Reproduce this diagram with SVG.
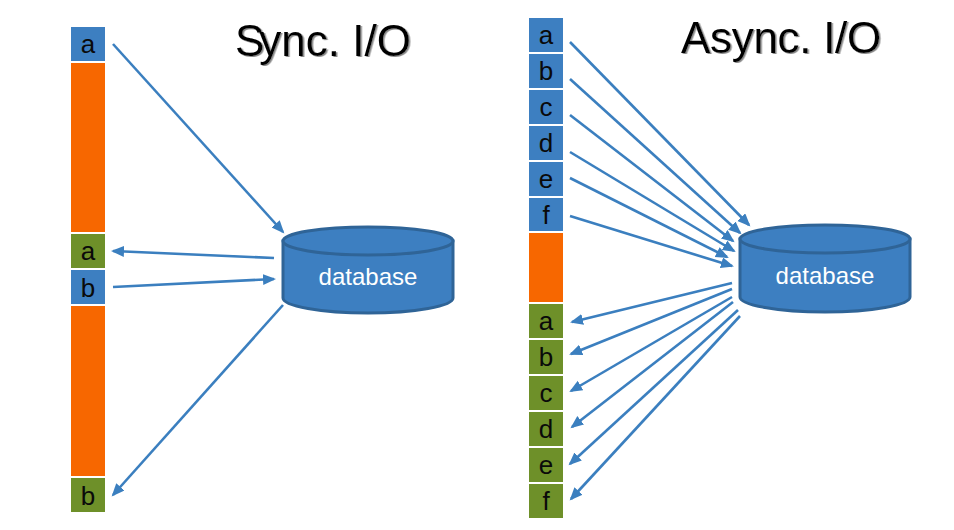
<svg xmlns="http://www.w3.org/2000/svg" width="954" height="530" viewBox="0 0 954 530">
  <style>
    text { font-family: "Liberation Sans", Arial, sans-serif; }
    .box { stroke-width: 0; }
    .io { fill: #3d7fc1; }
    .done { fill: #6e9029; }
    .wait { fill: #f76700; }
    .label { font-size: 26px; fill: #0a0a0a; text-anchor: middle; }
    .title { font-size: 44px; fill: #000; filter: url(#soft); }
    .dbbody { fill: #3d7fc1; stroke: #2f6497; stroke-width: 3; }
    .dbtext { font-size: 24px; fill: #fff; text-anchor: middle; }
    .link { stroke: #3b7fbf; stroke-width: 2.6; fill: none; marker-end: url(#head); }
  </style>
  <defs>
    <marker id="head" markerUnits="userSpaceOnUse" markerWidth="14" markerHeight="12" refX="11" refY="5.5" orient="auto">
      <path d="M0 0L13 5.5L0 11Z" fill="#3b7fbf"/>
    </marker>
    <filter id="soft" x="-5%" y="-10%" width="110%" height="120%">
      <feDropShadow dx="1.5" dy="1" stdDeviation="0.7" flood-color="#888"/>
    </filter>
  </defs>
  <rect width="954" height="530" fill="#fff"/>

  <text class="title" x="235" y="56" dx="0 -5 0 0 0 0 0 0 0" letter-spacing="0">Sync. I/O</text>
  <text class="title" x="681" y="53" letter-spacing="-0.3">Async. I/O</text>

  <g id="sync-column">
    <g id="sync-a-out"><rect class="box io" x="71" y="27" width="34" height="34"/><text class="label" x="88" y="53">a</text></g>
    <g id="sync-wait-1"><rect class="box wait" x="71" y="63" width="34" height="169"/></g>
    <g id="sync-a-in"><rect class="box done" x="71" y="234" width="34" height="34"/><text class="label" x="88" y="260">a</text></g>
    <g id="sync-b-out"><rect class="box io" x="71" y="270" width="34" height="34"/><text class="label" x="88" y="297">b</text></g>
    <g id="sync-wait-2"><rect class="box wait" x="71" y="306" width="34" height="170"/></g>
    <g id="sync-b-in"><rect class="box done" x="71" y="478" width="34" height="34"/><text class="label" x="88" y="505">b</text></g>
  </g>

  <g id="async-column">
    <g id="async-a-out"><rect class="box io" x="529" y="18" width="34" height="34"/><text class="label" x="546" y="44">a</text></g>
    <g id="async-b-out"><rect class="box io" x="529" y="54" width="34" height="34"/><text class="label" x="546" y="80">b</text></g>
    <g id="async-c-out"><rect class="box io" x="529" y="90" width="34" height="34"/><text class="label" x="546" y="116">c</text></g>
    <g id="async-d-out"><rect class="box io" x="529" y="126" width="34" height="34"/><text class="label" x="546" y="152">d</text></g>
    <g id="async-e-out"><rect class="box io" x="529" y="162" width="34" height="34"/><text class="label" x="546" y="188">e</text></g>
    <g id="async-f-out"><rect class="box io" x="529" y="198" width="34" height="33"/><text class="label" x="546" y="224">f</text></g>
    <g id="async-wait"><rect class="box wait" x="529" y="233" width="34" height="69"/></g>
    <g id="async-a-in"><rect class="box done" x="529" y="304" width="34" height="34"/><text class="label" x="546" y="330">a</text></g>
    <g id="async-b-in"><rect class="box done" x="529" y="340" width="34" height="34"/><text class="label" x="546" y="366">b</text></g>
    <g id="async-c-in"><rect class="box done" x="529" y="376" width="34" height="34"/><text class="label" x="546" y="402">c</text></g>
    <g id="async-d-in"><rect class="box done" x="529" y="412" width="34" height="34"/><text class="label" x="546" y="438">d</text></g>
    <g id="async-e-in"><rect class="box done" x="529" y="448" width="34" height="34"/><text class="label" x="546" y="474">e</text></g>
    <g id="async-f-in"><rect class="box done" x="529" y="484" width="34" height="34"/><text class="label" x="546" y="510">f</text></g>
  </g>

  <g id="sync-database">
    <path class="dbbody" d="M283 241V298C283 306 321 313 368 313S453 306 453 298V241Z"/>
    <ellipse class="dbbody" cx="368" cy="241" rx="85" ry="14"/>
    <text class="dbtext" x="368" y="285">database</text>
  </g>
  <g id="async-database">
    <path class="dbbody" d="M740 239V297C740 305 778 312 825 312S910 305 910 297V239Z"/>
    <ellipse class="dbbody" cx="825" cy="239" rx="85" ry="14"/>
    <text class="dbtext" x="825" y="284">database</text>
  </g>

  <g id="connectors">
    <line class="link" x1="113" y1="44" x2="283" y2="232"/>
    <line class="link" x1="274" y1="258" x2="113" y2="251"/>
    <line class="link" x1="113" y1="287" x2="274" y2="279"/>
    <line class="link" x1="283" y1="305" x2="113" y2="495"/>

    <line class="link" x1="570" y1="42" x2="749" y2="225"/>
    <line class="link" x1="570" y1="79" x2="740" y2="233"/>
    <line class="link" x1="570" y1="115" x2="733" y2="241"/>
    <line class="link" x1="570" y1="152" x2="734" y2="251"/>
    <line class="link" x1="570" y1="178" x2="727" y2="257"/>
    <line class="link" x1="570" y1="216" x2="732" y2="266"/>

    <line class="link" x1="732" y1="283" x2="572" y2="322"/>
    <line class="link" x1="732" y1="289" x2="571" y2="354"/>
    <line class="link" x1="732" y1="297" x2="571" y2="391"/>
    <line class="link" x1="733" y1="302" x2="572" y2="427"/>
    <line class="link" x1="738" y1="310" x2="570" y2="464"/>
    <line class="link" x1="740" y1="316" x2="571" y2="499"/>
  </g>
</svg>
